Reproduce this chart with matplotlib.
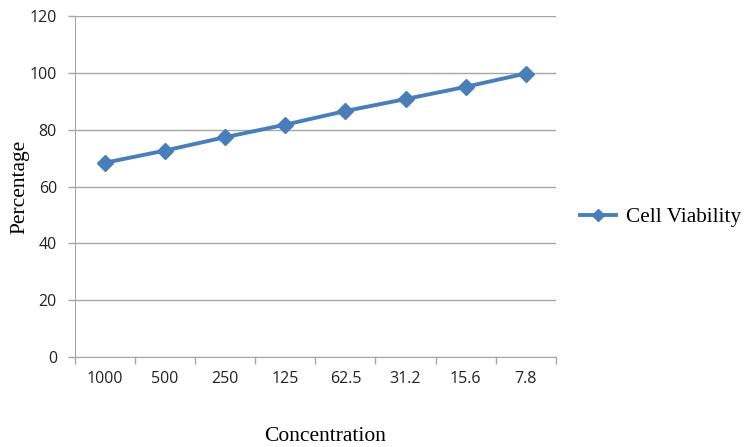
import numpy as np
import matplotlib.pyplot as plt

concentration = ["1000", "500", "250", "125", "62.5", "31.2", "15.6", "7.8"]
viability = [68.4, 72.7, 77.4, 81.8, 86.6, 90.8, 95.1, 99.8]
y_ticks = [0, 20, 40, 60, 80, 100, 120]

grid_col = "#a6a6a6"
line_col = "#4a7ebb"

fig = plt.figure(figsize=(7.5, 4.47), dpi=100)
ax = fig.add_axes([0.1, 0.201, 0.641, 0.763])

x = np.arange(len(concentration))
ax.plot(x, viability, color=line_col, lw=2.8, marker="D", ms=8,
        label="Cell Viability")

ax.set_xlim(-0.5, len(concentration) - 0.5)
ax.set_ylim(0, 120)
ax.set_yticks(y_ticks)
ax.yaxis.grid(True, color=grid_col, lw=1)
ax.set_axisbelow(True)

# category ticks sit between the labels
ax.set_xticks(np.arange(-0.5, len(concentration)))
ax.set_xticklabels([])
ax.set_xticks(x, minor=True)
ax.set_xticklabels(concentration, minor=True)
ax.tick_params(axis="x", which="major", length=5, color=grid_col, width=1)
ax.tick_params(axis="x", which="minor", length=0, pad=10)
ax.tick_params(axis="y", length=5, color=grid_col, width=1, pad=8)

for lab in ax.get_xticklabels(minor=True) + ax.get_yticklabels():
    lab.set_fontfamily("Open Sans")
    lab.set_fontsize(11.5)
    lab.set_color("#222222")

for s in ["top", "right"]:
    ax.spines[s].set_visible(False)
ax.spines["left"].set_color(grid_col)
ax.spines["bottom"].set_color(grid_col)

ax.set_xlabel("Concentration", family="Liberation Serif", fontsize=15.5, labelpad=29)
ax.xaxis.label.set_x(0.52)
ax.set_ylabel("Percentage", family="Liberation Serif", fontsize=15.5, labelpad=0)

leg = ax.legend(loc="center left", bbox_to_anchor=(0.773, 0.5145),
                bbox_transform=fig.transFigure, frameon=False,
                borderpad=0, borderaxespad=0,
                prop={"family": "Liberation Serif", "size": 15.3},
                handlelength=1.7, handletextpad=0.5, markerscale=0.75)

fig.savefig("out.png", dpi=100)
